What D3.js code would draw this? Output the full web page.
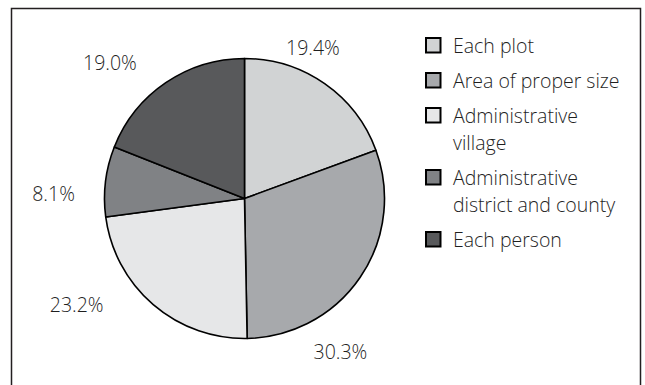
<!DOCTYPE html>
<html>
<head>
<meta charset="utf-8">
<script src="https://cdn.jsdelivr.net/npm/d3@7"></script>
<style>
  html, body { margin: 0; padding: 0; background: #ffffff; }
  svg { display: block; }
  text { font-family: "Open Sans", "Noto Sans", sans-serif; font-weight: 300; fill: #1f1f1f; }
</style>
</head>
<body>
<svg id="chart" width="645" height="385"></svg>
<script>
// Share of land-unit types (percent)
const categories = [
  "Each plot",
  "Area of proper size",
  "Administrative village",
  "Administrative district and county",
  "Each person"
];
const values = [19.4, 30.3, 23.2, 8.1, 19.0];
const valueLabels = ["19.4%", "30.3%", "23.2%", "8.1%", "19.0%"];
// Legend text split into display lines
const legendLines = [
  ["Each plot"],
  ["Area of proper size"],
  ["Administrative", "village"],
  ["Administrative", "district and county"],
  ["Each person"]
];
const fills = ["#d1d3d4", "#a7a9ac", "#e6e7e8", "#808285", "#58595b"];

// Layout
const W = 645, H = 385;
const cx = 244.5, cy = 198.5, radius = 140;
const fontSize = 19.5;
// Value-label placement: [angle in degrees clockwise from top, distance from centre]
const labelSpots = [[24.5, 165], [148, 181], [237.5, 199], [271.3, 191], [315.2, 191]];

const svg = d3.select("#chart");

// Frame open at the bottom
svg.append("path")
  .attr("d", `M11.5,${H + 5} V8.5 H640.5 V${H + 5}`)
  .attr("fill", "none")
  .attr("stroke", "#231f20")
  .attr("stroke-width", 1.5);

const color = d3.scaleOrdinal().domain(categories).range(fills);

const pie = d3.pie().sort(null).value(d => d.value);
const arc = d3.arc().innerRadius(0).outerRadius(radius);
const data = categories.map((c, i) => ({ name: c, value: values[i], label: valueLabels[i] }));
const arcs = pie(data);

const g = svg.append("g").attr("transform", `translate(${cx},${cy})`);
g.selectAll("path.slice")
  .data(arcs)
  .join("path")
  .attr("class", "slice")
  .attr("d", arc)
  .attr("fill", d => color(d.data.name))
  .attr("stroke", "#000000")
  .attr("stroke-width", 1.6)
  .attr("stroke-linejoin", "round");

// Value labels
g.selectAll("text.value")
  .data(arcs)
  .join("text")
  .attr("class", "value")
  .attr("text-anchor", "middle")
  .attr("font-size", fontSize)
  .attr("x", (d, i) => labelSpots[i][1] * Math.sin(labelSpots[i][0] * Math.PI / 180))
  .attr("y", (d, i) => -labelSpots[i][1] * Math.cos(labelSpots[i][0] * Math.PI / 180) + 7)
  .text(d => d.data.label);

// Legend
const legend = svg.append("g").attr("transform", "translate(425,0)");
const lineH = 27, itemGap = 35;
let baseline = 52.5;
legendLines.forEach((lines, i) => {
  const item = legend.append("g");
  item.append("rect")
    .attr("x", 1)
    .attr("y", baseline - 14.5)
    .attr("width", 14.5)
    .attr("height", 14.5)
    .attr("fill", fills[i])
    .attr("stroke", "#000000")
    .attr("stroke-width", 2);
  lines.forEach((t, j) => {
    item.append("text")
      .attr("x", 28)
      .attr("y", baseline + j * lineH)
      .attr("font-size", fontSize)
      .text(t);
  });
  baseline += (lines.length - 1) * lineH + itemGap;
});
</script>
</body>
</html>
